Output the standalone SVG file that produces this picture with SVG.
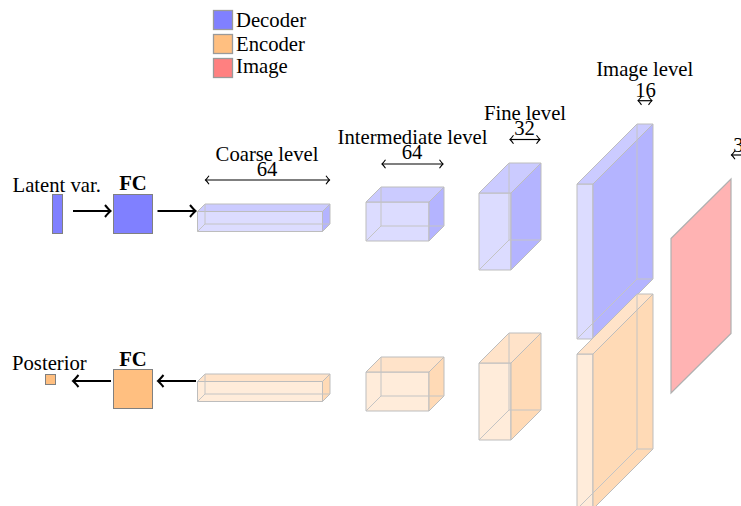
<svg xmlns="http://www.w3.org/2000/svg" width="741" height="506" viewBox="0 0 741 506">
<style>
text{font-family:"Liberation Serif","Times New Roman",serif;font-size:20.7px;fill:#000}
.c{text-anchor:middle}
.b{font-weight:bold}
.dF{fill:#DCDCFF}.dT{fill:#CBCBFF}.dR{fill:#B4B4FF}
.eF{fill:#FFECDA}.eT{fill:#FFE3C9}.eR{fill:#FFDAB6}
.edge{stroke:#BDBDBD;stroke-width:1;stroke-linejoin:round}
.hid{stroke:#C4C4C4;stroke-width:1;fill:none}
.leg{stroke:#9A9A9A;stroke-width:1.3}
.blk{stroke:#000;stroke-width:2.2;fill:none}
.dim{stroke:#000;stroke-width:1.2;fill:none}
</style>
<defs>
<marker id="ah" viewBox="-8 -8 10 16" markerWidth="10" markerHeight="16" refX="0" refY="0" orient="auto-start-reverse" markerUnits="userSpaceOnUse" overflow="visible"><path d="M-5.5,-6 Q-1.8,-1.5 0,0 Q-1.8,1.5 -5.5,6" fill="none" stroke="#000" stroke-width="2"/></marker>
<marker id="dh" viewBox="-6 -6 8 12" markerWidth="8" markerHeight="12" refX="0" refY="0" orient="auto-start-reverse" markerUnits="userSpaceOnUse" overflow="visible"><path d="M-3.5,-4.2 Q-1.2,-1 0,0 Q-1.2,1 -3.5,4.2" fill="none" stroke="#000" stroke-width="1.1"/></marker>
</defs>

<g id="legend">
<rect class="leg" x="213.5" y="10.5" width="19" height="19" fill="#8080FF"/>
<text x="236" y="27">Decoder</text>
<rect class="leg" x="213.5" y="34.5" width="19" height="19" fill="#FFBF80"/>
<text x="236" y="51">Encoder</text>
<rect class="leg" x="213.5" y="58.5" width="19" height="19" fill="#FF8080"/>
<text x="236" y="73">Image</text>
</g>

<g id="latent">
<rect x="52.5" y="194.5" width="10" height="39" fill="#8080FF" stroke="#808080" stroke-width="1"/>
<text x="12.5" y="191.5">Latent var.</text>
</g>
<g id="fc-dec">
<rect x="113.5" y="194.5" width="39" height="39" fill="#8080FF" stroke="#808080" stroke-width="1"/>
<text class="c b" x="133" y="190">FC</text>
</g>
<g id="posterior">
<rect x="45.5" y="374.5" width="10" height="10" fill="#FFBF80" stroke="#808080" stroke-width="1"/>
<text x="12" y="369.5">Posterior</text>
</g>
<g id="fc-enc">
<rect x="113.5" y="369.5" width="39" height="39" fill="#FFBF80" stroke="#808080" stroke-width="1"/>
<text class="c b" x="133" y="365.5">FC</text>
</g>

<!-- Decoder coarse: x197.5 y211.5 w125 h20 d7.5 -->
<g id="dec-coarse">
<polygon class="dF edge" points="197.5,211.5 322.5,211.5 322.5,231.5 197.5,231.5"/>
<polygon class="dT edge" points="197.5,211.5 205,204 330,204 322.5,211.5"/>
<polygon class="dR edge" points="322.5,211.5 330,204 330,224 322.5,231.5"/>
<path class="hid" d="M205,204 V224 H330 M205,224 L197.5,231.5"/>
<text class="c" x="267" y="161">Coarse level</text>
<text class="c" x="267" y="176">64</text>
</g>
<g id="enc-coarse">
<polygon class="eF edge" points="197.5,381.5 322.5,381.5 322.5,401.5 197.5,401.5"/>
<polygon class="eT edge" points="197.5,381.5 205,374 330,374 322.5,381.5"/>
<polygon class="eR edge" points="322.5,381.5 330,374 330,394 322.5,401.5"/>
<path class="hid" d="M205,374 V394 H330 M205,394 L197.5,401.5"/>
</g>

<!-- Intermediate: x366 y202 w63 h39 d15 -->
<g id="dec-inter">
<polygon class="dF edge" points="366,202 429,202 429,241 366,241"/>
<polygon class="dT edge" points="366,202 381,187 444,187 429,202"/>
<polygon class="dR edge" points="429,202 444,187 444,226 429,241"/>
<path class="hid" d="M381,187 V226 H444 M381,226 L366,241"/>
<text class="c" x="412.5" y="143.5">Intermediate level</text>
<text class="c" x="412" y="158.5">64</text>
</g>
<g id="enc-inter">
<polygon class="eF edge" points="366,372 429,372 429,411 366,411"/>
<polygon class="eT edge" points="366,372 381,357 444,357 429,372"/>
<polygon class="eR edge" points="429,372 444,357 444,396 429,411"/>
<path class="hid" d="M381,357 V396 H444 M381,396 L366,411"/>
</g>

<!-- Fine: x479 y193 w32 h77 d30 -->
<g id="dec-fine">
<polygon class="dF edge" points="479,193 511,193 511,270 479,270"/>
<polygon class="dT edge" points="479,193 509,163 541,163 511,193"/>
<polygon class="dR edge" points="511,193 541,163 541,240 511,270"/>
<path class="hid" d="M509,163 V240 H541 M509,240 L479,270"/>
<text class="c" x="525" y="119.5">Fine level</text>
<text class="c" x="524.5" y="135">32</text>
</g>
<g id="enc-fine">
<polygon class="eF edge" points="479,363 511,363 511,440 479,440"/>
<polygon class="eT edge" points="479,363 509,333 541,333 511,363"/>
<polygon class="eR edge" points="511,363 541,333 541,410 511,440"/>
<path class="hid" d="M509,333 V410 H541 M509,410 L479,440"/>
</g>

<!-- Image level: x577 y184 w16 h155 d60 -->
<g id="dec-image">
<polygon class="dF edge" points="577,184 593,184 593,339 577,339"/>
<polygon class="dT edge" points="577,184 637,124 653,124 593,184"/>
<polygon class="dR edge" points="593,184 653,124 653,279 593,339"/>
<path class="hid" d="M637,124 V279 H653 M637,279 L577,339"/>
<text class="c" x="644.7" y="75.5">Image level</text>
<text class="c" x="645.5" y="97">16</text>
</g>
<g id="enc-image">
<polygon class="eF edge" points="577,354 593,354 593,509 577,509"/>
<polygon class="eT edge" points="577,354 637,294 653,294 593,354"/>
<polygon class="eR edge" points="593,354 653,294 653,449 593,509"/>
<path class="hid" d="M637,294 V449 H653 M637,449 L577,509"/>
</g>

<g id="image">
<polygon points="671,238.5 731,179 731,333.5 671,393" fill="#FFB3B3" stroke="#B0B0B0" stroke-width="1.2"/>
<text x="733.3" y="151.5">32</text>
</g>

<g id="connectors">
<line class="blk" x1="73" y1="211" x2="110.5" y2="211" marker-end="url(#ah)"/>
<line class="blk" x1="157.5" y1="211" x2="195.5" y2="211" marker-end="url(#ah)"/>
<line class="blk" x1="111" y1="381" x2="73" y2="381" marker-end="url(#ah)"/>
<line class="blk" x1="196" y1="381" x2="158" y2="381" marker-end="url(#ah)"/>
<line class="dim" x1="205.5" y1="180" x2="329.5" y2="180" marker-start="url(#dh)" marker-end="url(#dh)"/>
<line class="dim" x1="382" y1="164" x2="443" y2="164" marker-start="url(#dh)" marker-end="url(#dh)"/>
<line class="dim" x1="510" y1="139.5" x2="540" y2="139.5" marker-start="url(#dh)" marker-end="url(#dh)"/>
<line class="dim" x1="638" y1="100.7" x2="652" y2="100.7" marker-start="url(#dh)" marker-end="url(#dh)"/>
<line class="dim" x1="731.5" y1="155" x2="756" y2="155" marker-start="url(#dh)" marker-end="url(#dh)"/>
</g>
</svg>
